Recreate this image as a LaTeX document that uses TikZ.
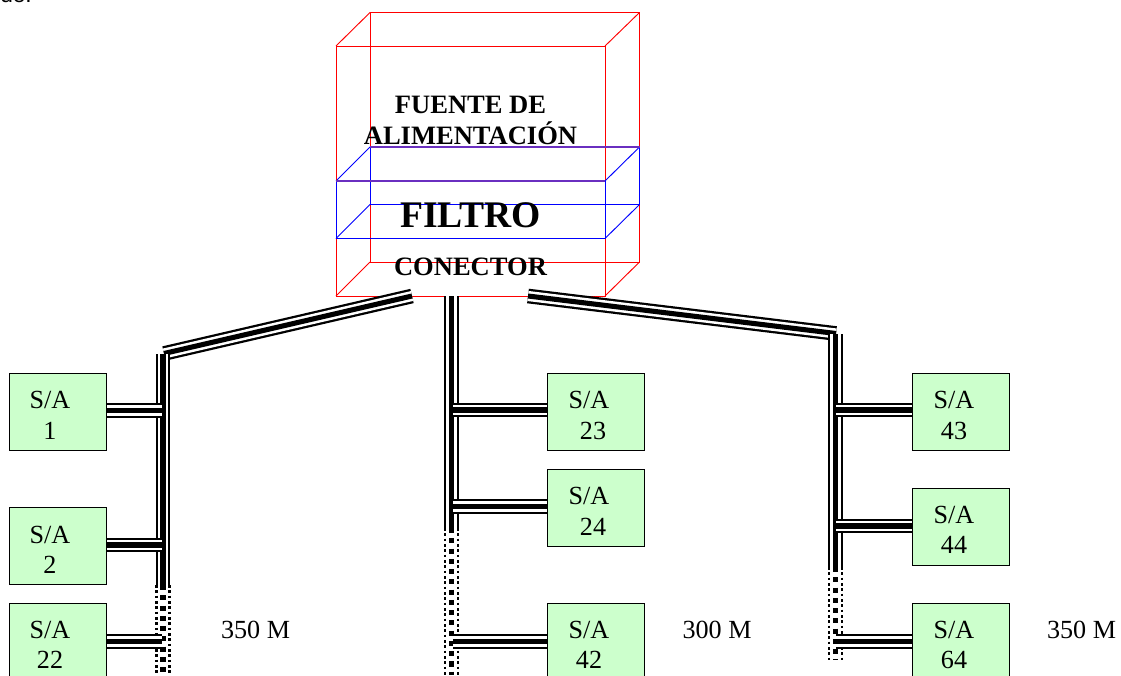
\documentclass[tikz,border=0pt]{standalone}
\usepackage{fontspec}
\setmainfont{Liberation Serif}
\newfontfamily\bodysans{Liberation Sans}
\definecolor{boxgreen}{HTML}{CCFFCC}
\definecolor{mixpurple}{HTML}{6A2FC0}
\tikzset{
  x=0.75pt,y=-0.75pt,
  redline/.style={draw=red,line width=0.7pt},
  blueline/.style={draw=blue,line width=0.7pt},
  purpleline/.style={draw=mixpurple,line width=1.1pt},
  sabox/.style={draw=black,line width=1.1pt,fill=boxgreen,minimum width=72.75pt,minimum height=57.75pt,inner sep=0pt,anchor=north west},
  satext/.style={font=\fontsize{19.6pt}{22pt}\selectfont,anchor=base,inner sep=0pt},
  headtext/.style={font=\bfseries\fontsize{19.9pt}{22pt}\selectfont,anchor=base,inner sep=0pt},
  cable/.style={line width=1.7pt,double=white,double distance=7.6pt,line cap=butt},
  cablecore/.style={draw=black,line width=3.8pt,line cap=butt},
  dotcable/.style={draw=black,line width=1.8pt,dash pattern=on 2pt off 2pt},
  dotcore/.style={draw=black,line width=3.8pt,dash pattern=on 3.8pt off 3.9pt},
}
\newcommand{\trunk}[2]{%
  \draw[cable] (#1) -- (#2);
  \draw[cablecore] (#1) -- (#2);}
\begin{document}
\begin{tikzpicture}
\useasboundingbox (0,0) rectangle (1121,675);
\clip (0,0) rectangle (1121,675);
\node[anchor=base west,inner sep=0pt,font=\bodysans\fontsize{17pt}{20pt}\selectfont] (frag) at (0,2) {de.};
% cabinet, red
\draw[redline] (336,46) rectangle (605,296);
\draw[redline] (370,12.5) rectangle (639.5,262);
\draw[redline] (336,46) -- (370,12.5) (605,46) -- (639.5,12.5) (336,296) -- (370,262) (605,296) -- (639.5,262);
% filter, blue
\draw[blueline] (336,181) -- (336,238.5) -- (605,238.5) -- (605,181);
\draw[blueline] (370,147) -- (370,204.5) (639.5,147) -- (639.5,204.5);
\draw[blueline] (370,204.5) -- (639.5,204.5);
\draw[blueline] (336,181) -- (370,147) (605,181) -- (639.5,147) (336,238.5) -- (370,204.5) (605,238.5) -- (639.5,204.5);
\draw[purpleline] (336,181) -- (605,181) (370,147) -- (639.5,147);
% labels
\node[headtext] (fuente) at (470.5,113) {FUENTE DE};
\node[headtext] (alim) at (470.5,144) {ALIMENTACIÓN};
\node[headtext,font=\bfseries\fontsize{28.2pt}{30pt}\selectfont] (filtro) at (470.5,227) {FILTRO};
\node[headtext] (conector) at (470.5,275) {CONECTOR};
% anchor points
\coordinate (LT) at (412,296);
\coordinate (LC) at (164,353.5);
\coordinate (LV) at (163,354);
\coordinate (LM) at (163,585);
\coordinate (LE) at (163,675);
\coordinate (CT) at (451.5,296);
\coordinate (CM) at (451.5,528);
\coordinate (CE) at (451.5,675);
\coordinate (RT) at (528,296);
\coordinate (RC) at (836,333.5);
\coordinate (RV) at (835.5,334);
\coordinate (RM) at (835.5,567);
\coordinate (RE) at (835.5,660);
% boxes
\node[sabox] (a1) at (9,373) {};
\node[sabox] (a2) at (9,507) {};
\node[sabox] (a22) at (9,603) {};
\node[sabox] (b23) at (547,373) {};
\node[sabox] (b24) at (547,469) {};
\node[sabox] (b42) at (547,603) {};
\node[sabox] (c43) at (912,373) {};
\node[sabox] (c44) at (912,488) {};
\node[sabox] (c64) at (912,603) {};
% trunks
\trunk{LT}{LC}
\trunk{LV}{LM}
\trunk{CT}{CM}
\trunk{RT}{RC}
\trunk{RV}{RM}
\draw[dotcable] (156.5,585) -- (156.5,675) (169.5,585) -- (169.5,675);
\draw[dotcore] (LM) -- (LE);
\draw[dotcable] (445,528) -- (445,675) (458,528) -- (458,675);
\draw[dotcore] (CM) -- (CE);
\draw[dotcable] (829,567) -- (829,660) (842,567) -- (842,660);
\draw[dotcore] (RM) -- (RE);
% branches
\coordinate (j1) at (162,410.5);
\coordinate (j2) at (162,545);
\coordinate (j22) at (162,641.5);
\coordinate (j23) at (453,410);
\coordinate (j24) at (453,506.5);
\coordinate (j42) at (453,641.5);
\coordinate (j43) at (836,410);
\coordinate (j44) at (836,526);
\coordinate (j64) at (836,641.5);
\trunk{a1.east |- j1}{j1}
\trunk{a2.east |- j2}{j2}
\trunk{a22.east |- j22}{j22}
\trunk{j23}{b23.west |- j23}
\trunk{j24}{b24.west |- j24}
\trunk{j42}{b42.west |- j42}
\trunk{j43}{c43.west |- j43}
\trunk{j44}{c44.west |- j44}
\trunk{j64}{c64.west |- j64}
% box texts
\node[satext] (t1a) at (50,408) {S/A};
\node[satext] (t1b) at (50,439) {1};
\node[satext] (t2a) at (50,543) {S/A};
\node[satext] (t2b) at (50,573) {2};
\node[satext] (t22a) at (50,638) {S/A};
\node[satext] (t22b) at (50,668) {22};
\node[satext] (t23a) at (589,408) {S/A};
\node[satext] (t23b) at (593,439) {23};
\node[satext] (t24a) at (589,504) {S/A};
\node[satext] (t24b) at (593,535) {24};
\node[satext] (t42a) at (589,638) {S/A};
\node[satext] (t42b) at (589,668) {42};
\node[satext] (t43a) at (954,408) {S/A};
\node[satext] (t43b) at (954,439) {43};
\node[satext] (t44a) at (954,523) {S/A};
\node[satext] (t44b) at (954,553) {44};
\node[satext] (t64a) at (954,638) {S/A};
\node[satext] (t64b) at (954,668) {64};
\node[satext] (m1) at (255.5,638) {350 M};
\node[satext] (m2) at (717,638) {300 M};
\node[satext] (m3) at (1081.5,638) {350 M};
\end{tikzpicture}
\end{document}
